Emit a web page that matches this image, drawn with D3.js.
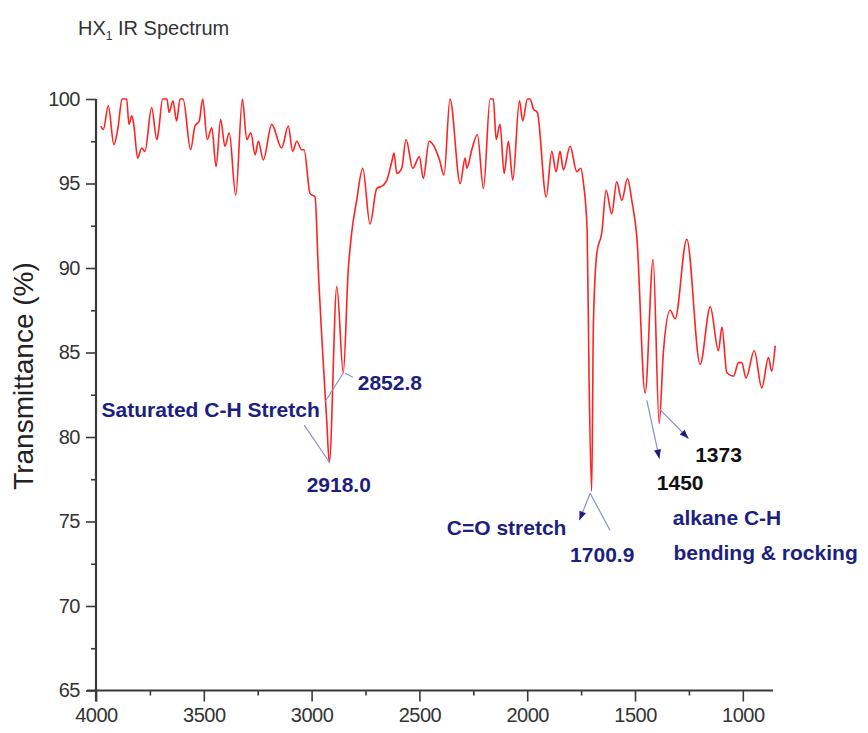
<!DOCTYPE html>
<html>
<head>
<meta charset="utf-8">
<script src="https://cdn.jsdelivr.net/npm/d3@7"></script>
<style>
  html, body { margin: 0; padding: 0; background: #fff; }
  svg { display: block; }
  text { font-family: "Liberation Sans", Arial, sans-serif; }
</style>
</head>
<body>
<svg id="chart" width="868" height="733"></svg>
<script>
// ---- Data (wavenumber cm^-1, transmittance %) ----
const wavenumbers = [3977,3966,3943,3917,3898,3879,3858,3847,3834,3824,3807,3788,3773,3742,3718,3711,3691,3671,3661,3643,3626,3610,3596,3561,3541,3521,3505,3484,3463,3443,3422,3402,3382,3352,3321,3301,3282,3262,3247,3224,3185,3139,3108,3088,3069,3046,3035,3007,2984,2969,2930,2918,2883,2853,2830,2814,2791,2763,2729,2698,2667,2651,2628,2618,2605,2582,2562,2531,2500,2482,2455,2432,2407,2386,2358,2311,2288,2280,2257,2231,2203,2172,2157,2144,2126,2107,2087,2067,2036,2021,1999,1987,1971,1953,1912,1886,1866,1848,1832,1801,1770,1751,1739,1722,1713,1701,1693,1677,1654,1634,1608,1585,1561,1535,1515,1492,1453,1416,1388,1368,1337,1314,1260,1198,1151,1113,1097,1074,1043,1020,1005,985,947,912,881,866,850];
const transmittance = [98.4,98.2,99.6,97.3,98.3,100,100,98.5,99.0,98.4,96.5,97.1,96.9,99.5,97.6,98.0,100,100,99.2,99.9,98.7,100,100,97.0,98.4,98.7,100,97.6,98.3,96.0,98.8,97.2,98.0,94.3,100,97.6,98.0,96.7,97.5,96.4,98.5,97.1,98.4,96.9,97.5,97.0,97.0,94.4,94.2,89.9,81.0,78.5,88.9,83.8,89.9,92.1,94.0,95.9,92.6,94.7,94.9,95.2,96.3,96.8,95.6,95.9,97.6,95.9,96.6,95.3,97.5,97.2,96.4,95.5,100,95.0,96.5,95.9,97.0,97.9,94.7,100,100,97.6,98.5,95.6,97.5,95.2,99.9,98.7,100,100,99.4,99.2,94.2,96.9,95.7,96.9,95.8,97.2,95.7,95.9,95.0,92.2,83.4,76.8,86.7,90.9,92.1,94.6,93.2,95.1,94.0,95.3,94.0,91.9,82.6,90.5,80.8,85.1,87.5,87.0,91.7,84.3,87.7,85.1,86.5,83.8,83.6,84.4,84.4,83.5,85.1,82.9,84.7,83.9,85.4];

const xTicksMajor = [4000,3500,3000,2500,2000,1500,1000];
const xTicksMinor = [3750,3250,2750,2250,1750,1250];
const yTicksMajor = [100,95,90,85,80,75,70,65];
const yTicksMinor = [97.5,92.5,87.5,82.5,77.5,72.5,67.5];

// Annotation texts with anchor positions in data space
const annoText  = ["Saturated C-H Stretch","2852.8","2918.0","C=O stretch","1700.9","1373","1450","alkane C-H","bending & rocking"];
const annoWn    = [3974,2786,3023,2373,1801,1221,1399,1325,1322];
const annoT     = [81.2,82.8,76.75,74.2,72.6,78.5,76.85,74.8,72.7];
const annoKind  = ["navy","serif","navy","navy","navy","black","black","navy","navy"];

// Leader lines [wn, T] from -> to, arrow flag
const leaderFrom = [[3034,80.7],[2938,82.07],[2845,83.77],[1708,76.67],[1708,76.67],[1445,82.17],[1384,81.62]];
const leaderTo   = [[2915,78.46],[2853,83.79],[2808,83.54],[1758,75.07],[1616,74.48],[1387,78.72],[1252,79.91]];
const leaderArrow= [false,false,false,true,false,true,true];

// ---- Drawing ----
const svg = d3.select("#chart");
svg.append("rect").attr("width",868).attr("height",733).attr("fill","#fff");

const x = d3.scaleLinear().domain([4000, 860]).range([96, 773]);
const y = d3.scaleLinear().domain([65, 100]).range([690.5, 99]);

const axisColor = "#3a3a3a";
const textColor = "#333";

// Title
const title = svg.append("text").attr("x",78).attr("y",35)
  .attr("font-size",20).attr("fill",textColor);
title.append("tspan").text("HX");
title.append("tspan").attr("font-size",12).attr("dy",5).text("1");
title.append("tspan").attr("dy",-5).text(" IR Spectrum");

// X axis
const xAxisG = svg.append("g").attr("transform",`translate(0,${y(65)})`);
xAxisG.call(d3.axisBottom(x).tickValues(xTicksMajor).tickSize(11).tickPadding(6).tickFormat(d3.format("d")));
xAxisG.append("g").call(d3.axisBottom(x).tickValues(xTicksMinor).tickSize(5).tickFormat(""));
xAxisG.selectAll(".domain").remove();
xAxisG.append("line").attr("x1",87).attr("x2",773).attr("y1",0).attr("y2",0)
  .attr("stroke",axisColor).attr("stroke-width",2.2);
xAxisG.selectAll(".tick line").attr("stroke",axisColor).attr("stroke-width",1.6);
xAxisG.selectAll(".tick text").attr("font-size",20).attr("fill",textColor)
  .attr("font-family","'Liberation Sans', Arial, sans-serif").attr("letter-spacing","-0.5");

// Y axis
const yAxisG = svg.append("g").attr("transform",`translate(${x(4000)},0)`);
yAxisG.call(d3.axisLeft(y).tickValues(yTicksMajor).tickSize(10).tickPadding(6).tickFormat(d3.format("d")));
yAxisG.append("g").call(d3.axisLeft(y).tickValues(yTicksMinor).tickSize(5).tickFormat(""));
yAxisG.selectAll(".domain").remove();
yAxisG.append("line").attr("x1",0).attr("x2",0).attr("y1",y(100)).attr("y2",y(65)+11)
  .attr("stroke",axisColor).attr("stroke-width",2.2);
yAxisG.selectAll(".tick line").attr("stroke",axisColor).attr("stroke-width",1.6);
yAxisG.selectAll(".tick text").attr("font-size",20).attr("fill",textColor)
  .attr("font-family","'Liberation Sans', Arial, sans-serif").attr("letter-spacing","-0.5");

// Y label
svg.append("text")
  .attr("transform",`translate(33,376) rotate(-90)`)
  .attr("text-anchor","middle").attr("font-size",28).attr("fill","#222")
  .text("Transmittance (%)");

// Spectrum line
const pts = wavenumbers.map((w,i)=>[w, transmittance[i]]);
svg.append("path").datum(pts)
  .attr("fill","none").attr("stroke","#ff2222").attr("stroke-width",1.6)
  .attr("stroke-linejoin","round")
  .attr("d", d3.line().x(d=>x(d[0])).y(d=>y(d[1])).curve(d3.curveMonotoneX));

// Leader lines & arrows
const navy = "#1c1f7f";
const leaderColor = "#8a8fd0";
leaderFrom.forEach((f,i)=>{
  const t = leaderTo[i];
  const x1 = x(f[0]), y1 = y(f[1]), x2 = x(t[0]), y2 = y(t[1]);
  svg.append("line").attr("x1",x1).attr("y1",y1).attr("x2",x2).attr("y2",y2)
    .attr("stroke",leaderColor).attr("stroke-width",1.2);
  if (leaderArrow[i]) {
    const ang = Math.atan2(y2-y1, x2-x1);
    const L = 9, W = 3.5;
    const bx = x2 - L*Math.cos(ang), by = y2 - L*Math.sin(ang);
    const p = [[x2,y2],[bx - W*Math.sin(ang), by + W*Math.cos(ang)],[bx + W*Math.sin(ang), by - W*Math.cos(ang)]];
    svg.append("path").attr("d", d3.line()(p)+"Z").attr("fill",navy);
  }
});

// Annotation texts
annoText.forEach((t,i)=>{
  const k = annoKind[i];
  svg.append("text").attr("x",x(annoWn[i])).attr("y",y(annoT[i]))
    .attr("font-size",21).attr("font-weight","bold")
    .attr("font-family", k==="serif" ? "'Liberation Serif', 'Times New Roman', serif" : "'Liberation Sans', Arial, sans-serif")
    .attr("fill", k==="black" ? "#111" : navy)
    .text(t);
});
</script>
</body>
</html>
